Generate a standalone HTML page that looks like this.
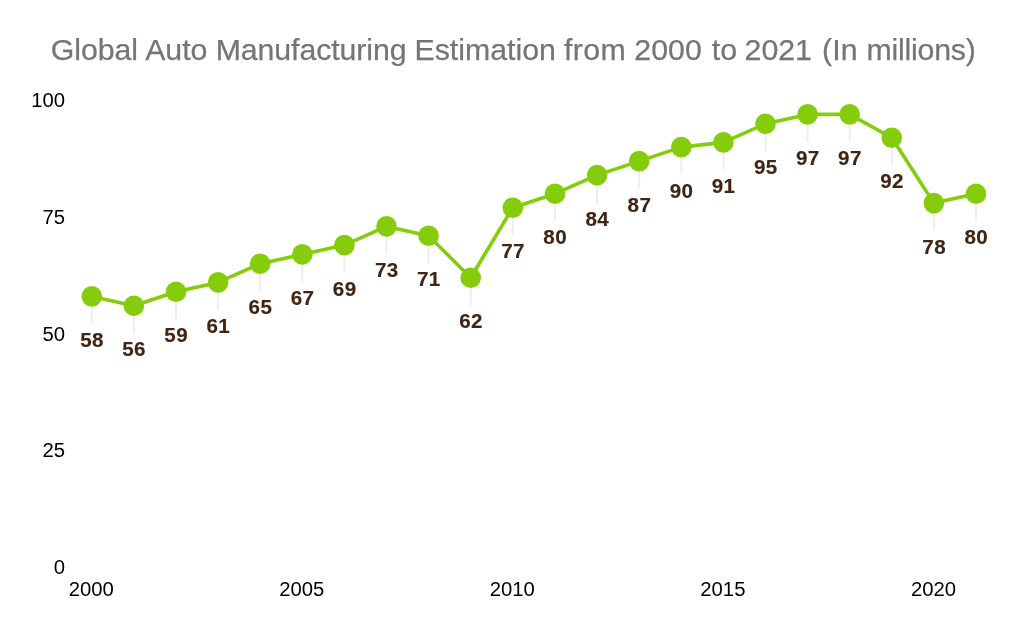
<!DOCTYPE html>
<html lang="en"><head><meta charset="utf-8"><title>Global Auto Manufacturing Estimation</title>
<style>
html,body{margin:0;padding:0;background:#fff;}
body{width:1024px;height:633px;overflow:hidden;font-family:"Liberation Sans",sans-serif;}
svg{display:block;}
.title{font-family:"Liberation Sans",sans-serif;font-size:30.3px;fill:#757575;stroke:#757575;stroke-width:0.25px;text-anchor:start;}
.ax{font-family:"Liberation Sans",sans-serif;font-size:20.3px;fill:#000;}
.lab{font-family:"Liberation Sans",sans-serif;font-weight:bold;font-size:20.6px;fill:#402414;stroke:#402414;stroke-width:0.15px;letter-spacing:0.4px;text-anchor:middle;}
</style></head><body>
<svg width="1024" height="633" viewBox="0 0 1024 633">
<rect width="1024" height="633" fill="#fff"/>
<text class="title" y="60.4" style="white-space:pre"><tspan x="50.73" letter-spacing="-0.05">Global </tspan><tspan x="145.15">Auto </tspan><tspan x="215.70" letter-spacing="-0.1">Manufacturing </tspan><tspan x="414.50">Estimation </tspan><tspan x="564.05" letter-spacing="0.4">from </tspan><tspan x="634.36">2000 </tspan><tspan x="711.77">to </tspan><tspan x="744.56">2021 </tspan><tspan x="821.97" letter-spacing="0.1">(In </tspan><tspan x="866.46" letter-spacing="-0.22">millions)</tspan></text>
<text class="ax" text-anchor="end" x="65" y="574.1">0</text>
<text class="ax" text-anchor="end" x="65" y="457.4">25</text>
<text class="ax" text-anchor="end" x="65" y="340.8">50</text>
<text class="ax" text-anchor="end" x="65" y="224.1">75</text>
<text class="ax" text-anchor="end" x="65" y="107.4">100</text>
<text class="ax" text-anchor="middle" x="91.25" y="596.4">2000</text>
<text class="ax" text-anchor="middle" x="301.80" y="596.4">2005</text>
<text class="ax" text-anchor="middle" x="512.35" y="596.4">2010</text>
<text class="ax" text-anchor="middle" x="722.89" y="596.4">2015</text>
<text class="ax" text-anchor="middle" x="933.44" y="596.4">2020</text>
<line x1="91.8" x2="91.8" y1="296.4" y2="324.0" stroke="#ececec" stroke-width="1.8"/>
<line x1="133.9" x2="133.9" y1="305.7" y2="333.3" stroke="#ececec" stroke-width="1.8"/>
<line x1="176.0" x2="176.0" y1="291.7" y2="319.3" stroke="#ececec" stroke-width="1.8"/>
<line x1="218.1" x2="218.1" y1="282.4" y2="310.0" stroke="#ececec" stroke-width="1.8"/>
<line x1="260.2" x2="260.2" y1="263.7" y2="291.3" stroke="#ececec" stroke-width="1.8"/>
<line x1="302.3" x2="302.3" y1="254.4" y2="282.0" stroke="#ececec" stroke-width="1.8"/>
<line x1="344.4" x2="344.4" y1="245.1" y2="272.7" stroke="#ececec" stroke-width="1.8"/>
<line x1="386.5" x2="386.5" y1="226.4" y2="254.0" stroke="#ececec" stroke-width="1.8"/>
<line x1="428.6" x2="428.6" y1="235.7" y2="263.3" stroke="#ececec" stroke-width="1.8"/>
<line x1="470.7" x2="470.7" y1="277.7" y2="305.3" stroke="#ececec" stroke-width="1.8"/>
<line x1="512.8" x2="512.8" y1="207.7" y2="235.3" stroke="#ececec" stroke-width="1.8"/>
<line x1="555.0" x2="555.0" y1="193.7" y2="221.3" stroke="#ececec" stroke-width="1.8"/>
<line x1="597.1" x2="597.1" y1="175.1" y2="202.7" stroke="#ececec" stroke-width="1.8"/>
<line x1="639.2" x2="639.2" y1="161.1" y2="188.7" stroke="#ececec" stroke-width="1.8"/>
<line x1="681.3" x2="681.3" y1="147.1" y2="174.7" stroke="#ececec" stroke-width="1.8"/>
<line x1="723.4" x2="723.4" y1="142.4" y2="170.0" stroke="#ececec" stroke-width="1.8"/>
<line x1="765.5" x2="765.5" y1="123.7" y2="151.3" stroke="#ececec" stroke-width="1.8"/>
<line x1="807.6" x2="807.6" y1="114.4" y2="142.0" stroke="#ececec" stroke-width="1.8"/>
<line x1="849.7" x2="849.7" y1="114.4" y2="142.0" stroke="#ececec" stroke-width="1.8"/>
<line x1="891.8" x2="891.8" y1="137.7" y2="165.3" stroke="#ececec" stroke-width="1.8"/>
<line x1="933.9" x2="933.9" y1="203.1" y2="230.7" stroke="#ececec" stroke-width="1.8"/>
<line x1="976.0" x2="976.0" y1="193.7" y2="221.3" stroke="#ececec" stroke-width="1.8"/>
<polyline points="91.8,296.4 133.9,305.7 176.0,291.7 218.1,282.4 260.2,263.7 302.3,254.4 344.4,245.1 386.5,226.4 428.6,235.7 470.7,277.7 512.8,207.7 555.0,193.7 597.1,175.1 639.2,161.1 681.3,147.1 723.4,142.4 765.5,123.7 807.6,114.4 849.7,114.4 891.8,137.7 933.9,203.1 976.0,193.7" fill="none" stroke="#85cd0c" stroke-width="3.6" stroke-linejoin="round"/>
<circle cx="91.8" cy="296.4" r="10.3" fill="#85cd0c"/>
<circle cx="133.9" cy="305.7" r="10.3" fill="#85cd0c"/>
<circle cx="176.0" cy="291.7" r="10.3" fill="#85cd0c"/>
<circle cx="218.1" cy="282.4" r="10.3" fill="#85cd0c"/>
<circle cx="260.2" cy="263.7" r="10.3" fill="#85cd0c"/>
<circle cx="302.3" cy="254.4" r="10.3" fill="#85cd0c"/>
<circle cx="344.4" cy="245.1" r="10.3" fill="#85cd0c"/>
<circle cx="386.5" cy="226.4" r="10.3" fill="#85cd0c"/>
<circle cx="428.6" cy="235.7" r="10.3" fill="#85cd0c"/>
<circle cx="470.7" cy="277.7" r="10.3" fill="#85cd0c"/>
<circle cx="512.8" cy="207.7" r="10.3" fill="#85cd0c"/>
<circle cx="555.0" cy="193.7" r="10.3" fill="#85cd0c"/>
<circle cx="597.1" cy="175.1" r="10.3" fill="#85cd0c"/>
<circle cx="639.2" cy="161.1" r="10.3" fill="#85cd0c"/>
<circle cx="681.3" cy="147.1" r="10.3" fill="#85cd0c"/>
<circle cx="723.4" cy="142.4" r="10.3" fill="#85cd0c"/>
<circle cx="765.5" cy="123.7" r="10.3" fill="#85cd0c"/>
<circle cx="807.6" cy="114.4" r="10.3" fill="#85cd0c"/>
<circle cx="849.7" cy="114.4" r="10.3" fill="#85cd0c"/>
<circle cx="891.8" cy="137.7" r="10.3" fill="#85cd0c"/>
<circle cx="933.9" cy="203.1" r="10.3" fill="#85cd0c"/>
<circle cx="976.0" cy="193.7" r="10.3" fill="#85cd0c"/>
<text class="lab" x="92.00" y="347.1">58</text>
<text class="lab" x="134.11" y="356.4">56</text>
<text class="lab" x="176.22" y="342.4">59</text>
<text class="lab" x="218.33" y="333.1">61</text>
<text class="lab" x="260.44" y="314.4">65</text>
<text class="lab" x="302.55" y="305.1">67</text>
<text class="lab" x="344.66" y="295.8">69</text>
<text class="lab" x="386.77" y="277.1">73</text>
<text class="lab" x="428.88" y="286.4">71</text>
<text class="lab" x="470.99" y="328.4">62</text>
<text class="lab" x="513.10" y="258.4">77</text>
<text class="lab" x="555.20" y="244.4">80</text>
<text class="lab" x="597.31" y="225.8">84</text>
<text class="lab" x="639.42" y="211.8">87</text>
<text class="lab" x="681.53" y="197.8">90</text>
<text class="lab" x="723.64" y="193.1">91</text>
<text class="lab" x="765.75" y="174.4">95</text>
<text class="lab" x="807.86" y="165.1">97</text>
<text class="lab" x="849.97" y="165.1">97</text>
<text class="lab" x="892.08" y="188.4">92</text>
<text class="lab" x="934.19" y="253.8">78</text>
<text class="lab" x="976.30" y="244.4">80</text>
</svg>
</body></html>
